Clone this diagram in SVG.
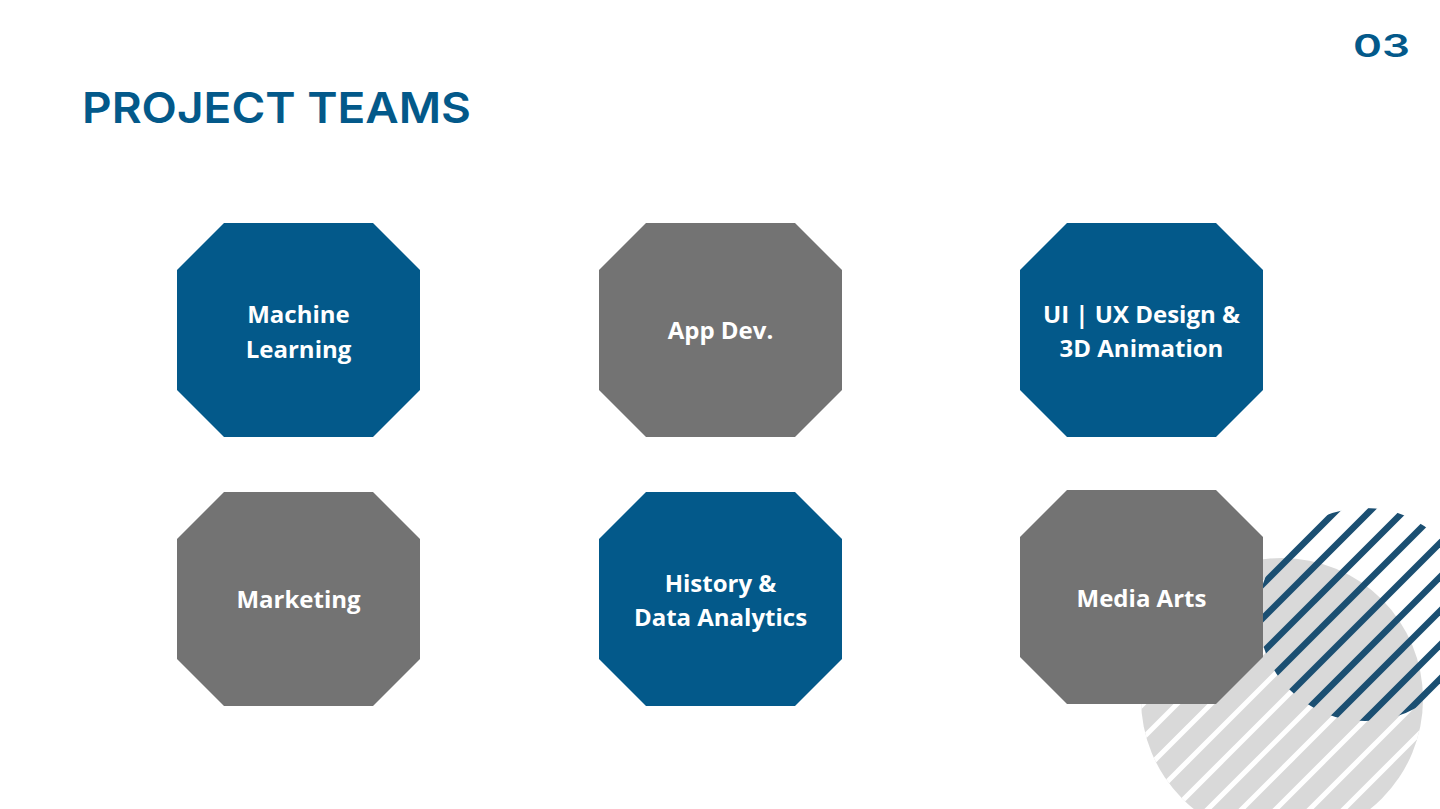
<svg xmlns="http://www.w3.org/2000/svg" xmlns:xlink="http://www.w3.org/1999/xlink" width="1440" height="809" viewBox="0 0 1440 809">
  <style>
    .blue { fill: #03598a; }
    .grey { fill: #737373; }
    .label { font-family: "Open Sans", "Liberation Sans", sans-serif; font-weight: 700; font-size: 24px; fill: #ffffff; text-anchor: middle; }
    .heading { font-family: Inter, "Liberation Sans", sans-serif; font-weight: 600; fill: #03598a; }
    .stripe-w { stroke: #ffffff; stroke-width: 5; }
    .stripe-b { stroke: #1b4f72; stroke-width: 6.5; }
  </style>
  <defs>
    <!-- octagon tile, 243 x 214 with 47px corner cuts -->
    <polygon id="oct" points="47,0 196,0 243,47 243,167 196,214 47,214 0,167 0,47"/>
    <clipPath id="greyClip"><circle cx="1282" cy="699" r="141"/></clipPath>
    <clipPath id="blueClip"><circle cx="1365" cy="614.5" r="106.5"/></clipPath>
    <!-- 45 degree hatch lines, x + y = const, 34px apart -->
    <g id="hatch">
      <line x1="1000" y1="779" x2="1500" y2="279"/>
      <line x1="1000" y1="813" x2="1500" y2="313"/>
      <line x1="1000" y1="847" x2="1500" y2="347"/>
      <line x1="1000" y1="881" x2="1500" y2="381"/>
      <line x1="1000" y1="915" x2="1500" y2="415"/>
      <line x1="1000" y1="949" x2="1500" y2="449"/>
      <line x1="1000" y1="983" x2="1500" y2="483"/>
      <line x1="1000" y1="1017" x2="1500" y2="517"/>
      <line x1="1000" y1="1051" x2="1500" y2="551"/>
      <line x1="1000" y1="1085" x2="1500" y2="585"/>
      <line x1="1000" y1="1119" x2="1500" y2="619"/>
      <line x1="1000" y1="1153" x2="1500" y2="653"/>
      <line x1="1000" y1="1187" x2="1500" y2="687"/>
    </g>
  </defs>

  <rect width="1440" height="809" fill="#ffffff"/>

  <!-- decorative circles with hatching, bottom right -->
  <g id="decoration">
    <circle cx="1282" cy="699" r="141" fill="#d9d9d9"/>
    <use xlink:href="#hatch" href="#hatch" class="stripe-w" clip-path="url(#greyClip)"/>
    <use xlink:href="#hatch" href="#hatch" class="stripe-b" clip-path="url(#blueClip)"/>
  </g>

  <!-- headings -->
  <text id="title" class="heading" x="82" y="123" font-size="43" textLength="389" lengthAdjust="spacingAndGlyphs">PROJECT TEAMS</text>
  <text id="page-number" class="heading" x="1353" y="57" font-size="31" textLength="57" lengthAdjust="spacingAndGlyphs">03</text>

  <!-- team nodes -->
  <g id="node-machine-learning">
    <use xlink:href="#oct" href="#oct" class="blue" x="177" y="223"/>
    <text class="label" x="298.5" y="323">Machine</text>
    <text class="label" x="298.5" y="358">Learning</text>
  </g>
  <g id="node-app-dev">
    <use xlink:href="#oct" href="#oct" class="grey" x="599" y="223"/>
    <text class="label" x="720.5" y="339">App Dev.</text>
  </g>
  <g id="node-ui-ux">
    <use xlink:href="#oct" href="#oct" class="blue" x="1020" y="223"/>
    <text class="label" x="1141.5" y="323">UI | UX Design &amp;</text>
    <text class="label" x="1141.5" y="357">3D Animation</text>
  </g>
  <g id="node-marketing">
    <use xlink:href="#oct" href="#oct" class="grey" x="177" y="492"/>
    <text class="label" x="298.5" y="608">Marketing</text>
  </g>
  <g id="node-history-data">
    <use xlink:href="#oct" href="#oct" class="blue" x="599" y="492"/>
    <text class="label" x="720.5" y="592">History &amp;</text>
    <text class="label" x="720.5" y="626">Data Analytics</text>
  </g>
  <g id="node-media-arts">
    <use xlink:href="#oct" href="#oct" class="grey" x="1020" y="490"/>
    <text class="label" x="1141.5" y="607">Media Arts</text>
  </g>

  <g id="connectors"/>
</svg>
